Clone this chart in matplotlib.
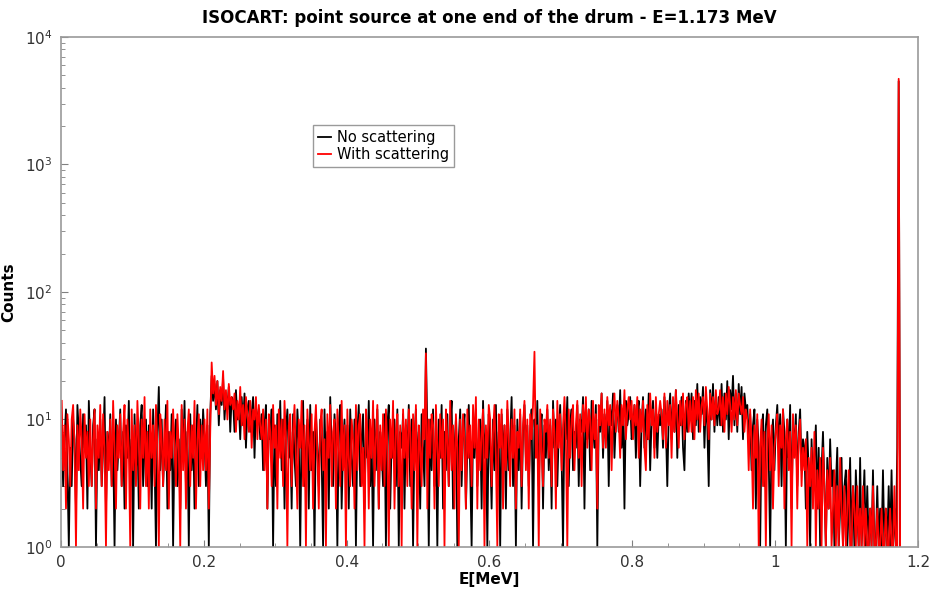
import numpy as np
import matplotlib.pyplot as plt
from matplotlib.ticker import MultipleLocator, LogLocator, NullFormatter, FormatStrFormatter

# channel width in MeV, counts per channel (2 keV bins from 0)
BIN_WIDTH = 0.002

no_scat = [
    9, 3, 7, 12, 4, 1, 6, 3, 10, 7, 2, 13, 8, 5, 3, 11, 6, 9, 2, 14,
    6, 3, 9, 12, 1, 7, 4, 10, 3, 6, 15, 2, 8, 5, 11, 3, 7, 1, 10, 4,
    7, 12, 3, 8, 2, 9, 5, 14, 3, 7, 1, 11, 4, 8, 2, 9, 13, 3, 6, 10,
    3, 9, 7, 2, 12, 5, 1, 8, 18, 4, 10, 3, 6, 13, 2, 8, 4, 11, 1, 7,
    10, 3, 7, 2, 12, 5, 14, 3, 8, 1, 11, 4, 9, 2, 6, 13, 3, 10, 5, 12,
    7, 3, 9, 1, 11, 22, 14, 19, 12, 20, 9, 17, 13, 21, 10, 16, 12, 18, 8, 15,
    14, 8, 17, 10, 13, 7, 15, 9, 16, 6, 12, 14, 8, 11, 15, 5, 13, 9, 12, 7,
    11, 4, 9, 13, 2, 10, 7, 12, 1, 9, 3, 11, 6, 14, 4, 10, 2, 8, 12, 5,
    8, 2, 11, 5, 3, 12, 7, 1, 9, 14, 3, 6, 10, 2, 13, 4, 8, 1, 11, 6,
    3, 10, 5, 1, 12, 4, 8, 2, 15, 6, 3, 11, 7, 1, 9, 13, 2, 6, 10, 4,
    9, 2, 12, 5, 3, 10, 1, 8, 13, 3, 7, 11, 2, 9, 5, 14, 3, 7, 1, 10,
    4, 12, 2, 8, 6, 3, 11, 1, 9, 13, 2, 7, 5, 10, 3, 12, 1, 8, 6, 11,
    2, 9, 5, 13, 3, 10, 1, 7, 12, 4, 8, 2, 11, 6, 3, 36, 8, 1, 10, 4,
    12, 3, 7, 1, 10, 5, 13, 2, 8, 4, 11, 3, 9, 14, 2, 6, 10, 1, 7, 12,
    3, 8, 11, 2, 6, 13, 4, 1, 9, 5, 12, 3, 7, 10, 2, 14, 5, 8, 1, 11,
    6, 2, 10, 4, 13, 3, 8, 1, 11, 5, 9, 2, 12, 4, 7, 15, 3, 9, 1, 10,
    4, 11, 2, 8, 13, 5, 9, 3, 7, 12, 1, 10, 6, 14, 3, 8, 11, 2, 9, 5,
    12, 4, 9, 2, 14, 6, 10, 3, 8, 13, 5, 1, 11, 7, 15, 3, 9, 12, 4, 8,
    6, 13, 3, 10, 8, 15, 2, 11, 7, 12, 4, 14, 9, 6, 13, 1, 10, 8, 16, 5,
    11, 7, 14, 3, 12, 9, 16, 5, 10, 13, 8, 17, 6, 12, 2, 14, 9, 11, 15, 7,
    8, 13, 5, 11, 14, 3, 9, 15, 6, 12, 7, 16, 4, 10, 14, 6, 12, 5, 11, 9,
    12, 6, 15, 9, 3, 11, 16, 7, 14, 8, 17, 5, 13, 9, 15, 6, 4, 14, 8, 16,
    10, 16, 7, 14, 9, 19, 8, 15, 11, 18, 6, 14, 9, 3, 17, 10, 19, 8, 15, 9,
    15, 9, 19, 8, 16, 10, 20, 7, 17, 12, 22, 9, 16, 8, 19, 11, 18, 7, 16, 12,
    13, 7, 11, 4, 9, 12, 2, 10, 6, 1, 8, 11, 3, 9, 12, 5, 1, 7, 10, 4,
    9, 13, 6, 11, 3, 12, 8, 1, 10, 5, 13, 2, 9, 6, 11, 3, 8, 12, 4, 7,
    6, 2, 8, 4, 1, 7, 3, 5, 9, 2, 6, 1, 4, 8, 3, 1, 5, 2, 7, 3,
    4, 1, 3, 6, 1, 2, 5, 1, 3, 4, 1, 2, 5, 1, 3, 1, 4, 2, 1, 5,
    1, 2, 4, 1, 3, 1, 2, 1, 4, 1, 1, 3, 1, 2, 1, 4, 1, 2, 1, 3,
    1, 4, 1, 2, 1, 6, 4500, 1,
]

with_scat = [
    14, 4, 9, 2, 11, 7, 3, 10, 13, 6, 1, 9, 4, 12, 7, 2, 11, 5, 8, 3,
    10, 3, 7, 12, 2, 9, 5, 13, 3, 11, 6, 1, 8, 4, 10, 3, 14, 6, 2, 9,
    5, 11, 3, 8, 13, 2, 10, 6, 1, 12, 4, 9, 3, 14, 7, 2, 10, 5, 15, 3,
    8, 2, 12, 5, 9, 3, 13, 6, 1, 11, 7, 3, 10, 4, 14, 2, 8, 5, 12, 6,
    3, 11, 6, 1, 13, 4, 10, 2, 8, 12, 3, 9, 5, 14, 2, 7, 11, 3, 9, 4,
    10, 4, 12, 2, 8, 28, 16, 22, 13, 20, 11, 18, 14, 24, 12, 17, 10, 19, 13, 15,
    12, 16, 8, 14, 10, 18, 9, 13, 7, 15, 11, 8, 14, 6, 12, 10, 15, 7, 13, 9,
    7, 12, 4, 10, 2, 11, 8, 3, 13, 6, 9, 2, 12, 5, 10, 3, 14, 7, 1, 9,
    11, 3, 8, 13, 5, 2, 10, 6, 14, 3, 9, 1, 12, 7, 4, 11, 2, 8, 13, 5,
    2, 9, 12, 4, 7, 1, 11, 5, 13, 3, 8, 10, 2, 12, 6, 3, 14, 4, 9, 1,
    12, 5, 3, 10, 7, 2, 13, 4, 9, 11, 3, 6, 1, 12, 8, 2, 10, 5, 14, 3,
    7, 13, 2, 9, 4, 11, 3, 12, 6, 1, 10, 5, 14, 2, 8, 11, 3, 9, 1, 12,
    5, 10, 3, 12, 8, 2, 11, 4, 13, 1, 9, 6, 3, 12, 7, 33, 2, 10, 5, 11,
    9, 2, 13, 6, 3, 11, 5, 10, 1, 12, 7, 3, 14, 4, 9, 2, 11, 6, 1, 10,
    4, 11, 7, 2, 12, 5, 9, 3, 13, 6, 15, 2, 10, 4, 8, 12, 1, 9, 5, 13,
    10, 3, 8, 13, 5, 1, 11, 6, 12, 2, 9, 4, 14, 7, 3, 10, 5, 12, 2, 8,
    6, 12, 3, 9, 14, 4, 10, 2, 11, 7, 13, 34, 5, 9, 1, 12, 6, 3, 10, 8,
    13, 5, 10, 3, 12, 8, 2, 14, 6, 11, 4, 9, 15, 7, 1, 12, 5, 10, 13, 4,
    9, 14, 5, 11, 3, 13, 8, 15, 6, 12, 10, 4, 14, 7, 11, 2, 13, 9, 16, 6,
    12, 6, 15, 9, 13, 4, 11, 16, 8, 14, 10, 5, 13, 9, 17, 7, 12, 15, 10, 14,
    7, 13, 9, 15, 5, 12, 8, 14, 6, 4, 13, 7, 16, 9, 12, 5, 15, 8, 11, 14,
    11, 7, 16, 6, 14, 9, 13, 5, 15, 8, 17, 10, 6, 14, 9, 16, 7, 13, 15, 8,
    14, 8, 15, 7, 17, 10, 16, 8, 13, 15, 9, 18, 12, 7, 16, 10, 15, 9, 17, 11,
    12, 17, 9, 15, 8, 16, 11, 18, 13, 8, 15, 10, 17, 9, 16, 13, 11, 15, 8, 12,
    10, 4, 12, 7, 2, 9, 5, 11, 1, 6, 10, 3, 8, 1, 7, 11, 4, 9, 2, 6,
    8, 11, 3, 9, 6, 12, 2, 7, 10, 4, 8, 1, 11, 5, 9, 2, 7, 10, 3, 6,
    4, 7, 1, 5, 3, 6, 2, 8, 1, 4, 2, 5, 1, 6, 3, 1, 4, 2, 5, 1,
    2, 4, 1, 3, 1, 5, 2, 1, 3, 1, 2, 4, 1, 1, 3, 2, 1, 3, 1, 2,
    1, 3, 1, 2, 1, 1, 2, 1, 3, 1, 1, 2, 1, 1, 2, 1, 1, 2, 1, 1,
    2, 1, 1, 3, 1, 1, 4700, 1,
]

e_no = (np.arange(len(no_scat)) + 0.5) * BIN_WIDTH
e_with = (np.arange(len(with_scat)) + 0.5) * BIN_WIDTH

fig = plt.figure(figsize=(9.31, 5.93), dpi=100)
ax = fig.add_axes([0.0655, 0.0776, 0.9205, 0.86])

ax.plot(e_no, no_scat, color='black', lw=1.3, label='No scattering')
ax.plot(e_with, with_scat, color='red', lw=1.3, label='With scattering')

ax.set_yscale('log')
ax.set_xlim(0, 1.2)
ax.set_ylim(1, 1e4)
ax.xaxis.set_major_locator(MultipleLocator(0.2))
ax.xaxis.set_minor_locator(MultipleLocator(0.05))
ax.xaxis.set_major_formatter(FormatStrFormatter('%g'))
ax.yaxis.set_major_locator(LogLocator(base=10))
ax.yaxis.set_minor_locator(LogLocator(base=10, subs=np.arange(2, 10)))
ax.yaxis.set_minor_formatter(NullFormatter())

ax.tick_params(which='both', direction='in', colors='#808080', labelcolor='#333333',
               labelsize=11, top=False, right=False)
ax.tick_params(axis='x', pad=6)
ax.tick_params(axis='y', pad=6)
ax.tick_params(which='major', length=5)
ax.tick_params(which='minor', length=3)
for s in ax.spines.values():
    s.set_color('#9a9a9a')
    s.set_linewidth(1.2)

ax.set_xlabel('E[MeV]', fontsize=11, fontweight='bold', labelpad=1)
ax.set_ylabel('Counts', fontsize=11, fontweight='bold', labelpad=6)
ax.set_title('ISOCART: point source at one end of the drum - E=1.173 MeV',
             fontsize=12, fontweight='bold', pad=10)

leg = ax.legend(loc='upper left', bbox_to_anchor=(0.285, 0.842), fontsize=10.5,
                handlelength=0.9, handletextpad=0.4, borderpad=0.35,
                labelspacing=0.15, fancybox=False, framealpha=1)
leg.get_frame().set_edgecolor('#9a9a9a')

fig.savefig('out.png', dpi=100)
